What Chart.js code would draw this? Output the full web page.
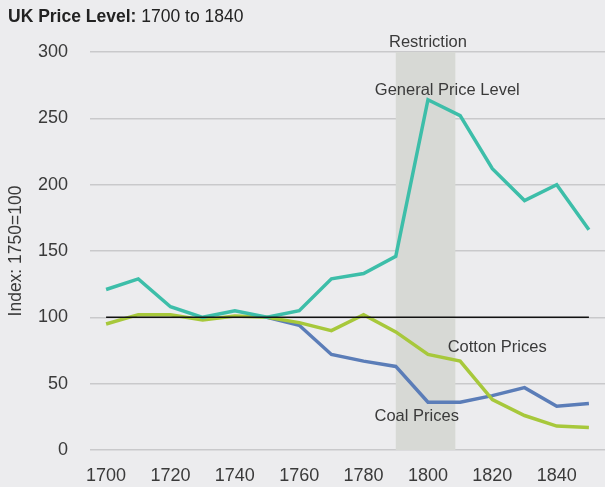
<!DOCTYPE html>
<html>
<head>
<meta charset="utf-8">
<script src="https://cdn.jsdelivr.net/npm/chart.js@4"></script>
<style>
    html, body { margin: 0; padding: 0; background: #ececee; }
    #wrap { width: 605px; height: 487px; position: relative; }
</style>
</head>
<body>
<div id="wrap"><canvas id="chartPrecos"></canvas></div>
<script>
/* ========== DADOS ========== */
const years = [1700, 1710, 1720, 1730, 1740, 1750, 1760, 1770, 1780, 1790, 1800, 1810, 1820, 1830, 1840, 1850];
const generalPrice = [121, 129, 108, 100, 105, 100, 105, 129, 133, 146, 264, 252, 212, 188, 200, 166];
const cottonPrices = [95, 102, 102, 98, 101, 100, 96, 90, 102, 89, 72, 67, 38, 26, 18, 17];
const coalPrices = [null, null, null, null, null, 100, 94, 72, 67, 63, 36, 36, 41, 47, 33, 35];
const baseline = [100, 100];
const baselineYears = [1700, 1850];
const restriction = [1790, 1808.5];
const xTicks = [1700, 1720, 1740, 1760, 1780, 1800, 1820, 1840];
const yTicks = [0, 50, 100, 150, 200, 250, 300];

const FONT = '"Liberation Sans", Arial, sans-serif';
const TXT = '#3a3a3a';

// rótulos das séries, em coordenadas de dados
const labels = [
    { text: 'Restriction', x: 1800, y: 307 },
    { text: 'General Price Level', x: 1806, y: 271 },
    { text: 'Cotton Prices', x: 1821.5, y: 77 },
    { text: 'Coal Prices', x: 1796.5, y: 25 }
];

function toPoints(xs, ys) {
    return xs.map((x, i) => ({ x: x, y: ys[i] }));
}

/* ========== PLUGINS ========== */
const shadePlugin = {
    id: 'shade',
    beforeDatasetsDraw(chart) {
        const { ctx, scales: { x, y } } = chart;
        const x0 = x.getPixelForValue(restriction[0]);
        const x1 = x.getPixelForValue(restriction[1]);
        const top = y.getPixelForValue(300);
        const bottom = y.getPixelForValue(0);
        ctx.save();
        ctx.fillStyle = '#d7d9d5';
        ctx.fillRect(x0, top, x1 - x0, bottom - top);
        ctx.restore();
    }
};

const textPlugin = {
    id: 'textos',
    afterDraw(chart) {
        const { ctx, scales: { x, y } } = chart;
        ctx.save();
        ctx.fillStyle = TXT;
        ctx.textBaseline = 'middle';
        ctx.textAlign = 'center';
        ctx.font = '16.5px ' + FONT;
        labels.forEach(l => {
            ctx.fillText(l.text, x.getPixelForValue(l.x), y.getPixelForValue(l.y));
        });
        // título
        ctx.textAlign = 'left';
        ctx.fillStyle = '#222';
        ctx.font = 'bold 17.5px ' + FONT;
        const bold = 'UK Price Level:';
        ctx.fillText(bold, 8, 17);
        const w = ctx.measureText(bold).width;
        ctx.font = '17.5px ' + FONT;
        ctx.fillText(' 1700 to 1840', 8 + w, 17);
        ctx.restore();
    }
};

/* ========== GRÁFICO ========== */
const ctx = document.getElementById('chartPrecos').getContext('2d');
new Chart(ctx, {
    type: 'line',
    data: {
        datasets: [
            {
                label: 'General Price Level',
                data: toPoints(years, generalPrice),
                borderColor: '#3dbea9',
                borderWidth: 3.5
            },
            {
                label: 'Cotton Prices',
                data: toPoints(years, cottonPrices),
                borderColor: '#a7c83b',
                borderWidth: 3.5
            },
            {
                label: 'Coal Prices',
                data: toPoints(years, coalPrices),
                borderColor: '#5b7db8',
                borderWidth: 3.5
            },
            {
                label: 'Base',
                data: toPoints(baselineYears, baseline),
                borderColor: '#111',
                borderWidth: 1.5,
                order: -1
            }
        ]
    },
    options: {
        responsive: true,
        maintainAspectRatio: false,
        animation: false,
        layout: { padding: { top: 52, right: 0, bottom: 0, left: 0 } },
        elements: {
            point: { radius: 0 },
            line: { tension: 0, fill: false, borderJoinStyle: 'miter', borderCapStyle: 'butt' }
        },
        plugins: {
            legend: { display: false },
            tooltip: { enabled: false }
        },
        scales: {
            x: {
                type: 'linear',
                min: 1695,
                max: 1855,
                afterBuildTicks: (s) => { s.ticks = xTicks.map(v => ({ value: v })); },
                afterFit: (s) => { s.height = 37; },
                grid: { display: false },
                border: { display: false },
                ticks: {
                    color: TXT,
                    font: { family: FONT, size: 18 },
                    padding: 7,
                    maxRotation: 0,
                    callback: v => String(v)
                }
            },
            y: {
                min: 0,
                max: 300,
                afterBuildTicks: (s) => { s.ticks = yTicks.map(v => ({ value: v })); },
                afterFit: (s) => { s.width = 90; },
                grid: { color: '#c9c9cb', lineWidth: 1.5, drawTicks: false },
                border: { display: false },
                title: {
                    display: true,
                    text: 'Index: 1750=100',
                    color: TXT,
                    font: { family: FONT, size: 17.5 },
                    padding: { top: 6, bottom: 0 }
                },
                ticks: {
                    color: TXT,
                    font: { family: FONT, size: 18 },
                    padding: 22
                }
            }
        }
    },
    plugins: [shadePlugin, textPlugin]
});
</script>
</body>
</html>
